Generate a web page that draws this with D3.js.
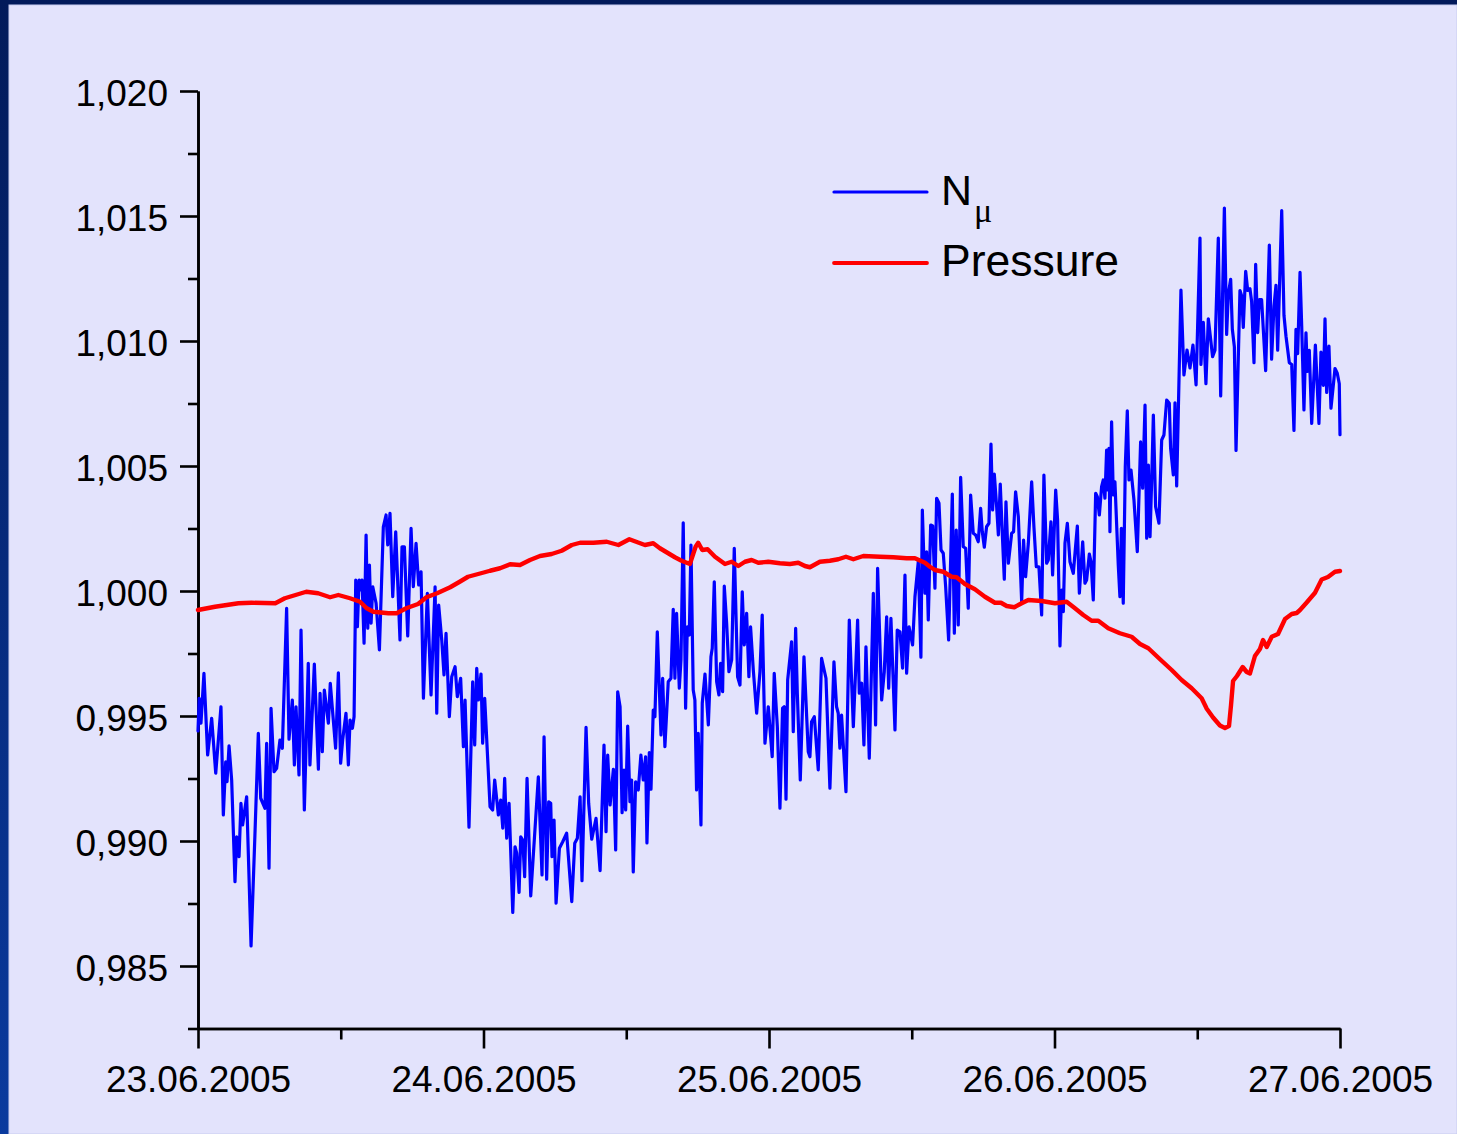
<!DOCTYPE html>
<html>
<head>
<meta charset="utf-8">
<script src="https://cdn.jsdelivr.net/npm/d3@7"></script>
<style>
  html, body { margin: 0; padding: 0; background: #0a2a78; }
  svg { display: block; }
  text { font-family: "Liberation Sans", Arial, Helvetica, sans-serif; }
</style>
</head>
<body>
<svg id="chart" width="1457" height="1134"></svg>
<script>
// Muon count rate N_mu (normalised) — hours after 23.06.2005 00:00
const nmuHours = [
  0.00, 0.10, 0.25, 0.50, 0.81, 1.15, 1.49, 1.93, 2.13, 2.33, 2.44, 2.61, 2.83, 3.11, 3.25, 3.45, 3.61, 3.75, 4.09, 4.46,
  4.79, 5.07, 5.27, 5.63, 5.77, 5.97, 6.14, 6.39, 6.61, 6.89, 7.09, 7.45, 7.65, 7.93, 8.10, 8.24, 8.49, 8.66, 8.94, 9.27,
  9.41, 9.78, 10.12, 10.26, 10.45, 10.62, 10.96, 11.12, 11.57, 11.80, 11.99, 12.16, 12.44, 12.64, 12.78, 12.98, 13.12, 13.26, 13.40, 13.54,
  13.68, 13.79, 13.96, 14.13, 14.27, 14.41, 14.55, 14.69, 14.97, 15.25, 15.58, 15.81, 15.95, 16.14, 16.37, 16.62, 16.98, 17.15, 17.35, 17.63,
  17.91, 18.10, 18.33, 18.55, 18.75, 18.95, 19.28, 19.59, 19.93, 20.07, 20.23, 20.49, 20.68, 20.85, 21.13, 21.33, 21.61, 21.80, 22.08, 22.31,
  22.45, 22.78, 23.09, 23.26, 23.43, 23.57, 23.79, 23.93, 24.10, 24.55, 24.77, 24.94, 25.25, 25.45, 25.62, 25.78, 25.95, 26.15, 26.46, 26.65,
  26.79, 26.99, 27.13, 27.30, 27.46, 27.66, 27.97, 28.61, 28.92, 29.09, 29.31, 29.48, 29.65, 29.76, 29.93, 30.10, 30.38, 30.66, 30.99, 31.42,
  31.67, 31.89, 32.12, 32.28, 32.62, 32.84, 33.10, 33.46, 33.80, 34.13, 34.30, 34.44, 34.64, 34.92, 35.11, 35.28, 35.48, 35.65, 35.81, 35.95,
  36.12, 36.31, 36.45, 36.59, 36.79, 37.01, 37.23, 37.43, 37.63, 37.74, 37.94, 38.08, 38.27, 38.41, 38.61, 38.92, 39.06, 39.25, 39.53, 39.76,
  39.95, 40.09, 40.23, 40.46, 40.60, 40.79, 40.99, 41.13, 41.30, 41.44, 41.63, 41.77, 41.91, 42.05, 42.28, 42.39, 42.62, 42.90, 43.12, 43.23,
  43.40, 43.60, 43.79, 43.93, 44.10, 44.24, 44.44, 44.63, 44.86, 45.08, 45.36, 45.56, 45.75, 45.92, 46.12, 46.31, 46.45, 46.68, 46.96, 47.24,
  47.43, 47.66, 47.94, 48.27, 48.44, 48.70, 48.92, 49.14, 49.28, 49.43, 49.57, 49.90, 50.04, 50.24, 50.38, 50.63, 50.94, 51.30, 51.44, 51.58,
  51.81, 52.14, 52.42, 52.79, 53.12, 53.46, 53.68, 53.82, 53.96, 54.10, 54.47, 54.75, 55.09, 55.45, 55.59, 55.79, 55.98, 56.15, 56.43, 56.77,
  56.96, 57.13, 57.47, 57.69, 57.89, 58.06, 58.25, 58.59, 58.78, 59.01, 59.23, 59.43, 59.57, 59.77, 60.07, 60.27, 60.55, 60.77, 60.89, 61.11,
  61.25, 61.39, 61.59, 61.76, 61.95, 62.09, 62.29, 62.46, 62.65, 62.85, 63.10, 63.41, 63.58, 63.74, 63.91, 64.11, 64.33, 64.53, 64.75, 64.95,
  65.17, 65.37, 65.59, 65.79, 65.93, 66.10, 66.29, 66.49, 66.66, 66.80, 66.94, 67.14, 67.28, 67.44, 67.61, 67.78, 67.92, 68.12, 68.40, 68.56,
  68.73, 68.96, 69.24, 69.40, 69.57, 69.80, 70.08, 70.27, 70.47, 70.69, 70.92, 71.11, 71.34, 71.48, 71.70, 71.84, 72.10, 72.26, 72.46, 72.60,
  72.74, 72.88, 73.08, 73.30, 73.58, 73.92, 74.09, 74.37, 74.56, 74.70, 74.93, 75.07, 75.26, 75.46, 75.60, 75.77, 75.96, 76.10, 76.24, 76.38,
  76.47, 76.58, 76.66, 76.80, 76.94, 77.08, 77.36, 77.50, 77.62, 77.78, 77.95, 78.12, 78.26, 78.43, 78.68, 78.96, 79.24, 79.41, 79.61, 79.75,
  79.89, 80.03, 80.17, 80.31, 80.50, 80.78, 81.01, 81.20, 81.43, 81.65, 81.76, 81.99, 82.13, 82.27, 82.63, 82.88, 83.14, 83.39, 83.64, 83.90,
  84.23, 84.31, 84.51, 84.73, 84.93, 85.13, 85.29, 85.49, 85.77, 85.97, 86.14, 86.28, 86.47, 86.61, 86.81, 86.95, 87.12, 87.26, 87.59, 87.73,
  87.87, 88.07, 88.24, 88.43, 88.57, 88.77, 88.91, 89.08, 89.22, 89.41, 89.75, 90.06, 90.25, 90.45, 90.62, 90.76, 91.10, 91.29, 91.46, 91.74,
  91.94, 92.13, 92.30, 92.44, 92.64, 92.78, 92.97, 93.14, 93.25, 93.42, 93.62, 93.93, 94.23, 94.40, 94.60, 94.74, 94.88, 95.07, 95.24, 95.58,
  95.77, 95.94, 96.00
];
const nmuValues = [
  0.99440, 0.99571, 0.99471, 0.99671, 0.99344, 0.99491, 0.99271, 0.99537, 0.99104, 0.99317, 0.99237, 0.99381, 0.99244, 0.98837, 0.99017, 0.98937, 0.99151, 0.99064, 0.99177, 0.98580,
  0.99031, 0.99431, 0.99171, 0.99131, 0.99391, 0.98891, 0.99531, 0.99277, 0.99291, 0.99404, 0.99371, 0.99931, 0.99407, 0.99564, 0.99304, 0.99537, 0.99264, 0.99844, 0.99124, 0.99711,
  0.99304, 0.99708, 0.99287, 0.99591, 0.99357, 0.99604, 0.99471, 0.99631, 0.99371, 0.99673, 0.99311, 0.99404, 0.99511, 0.99304, 0.99484, 0.99451, 0.99497, 1.00044, 0.99857, 1.00044,
  1.00004, 1.00044, 0.99791, 1.00224, 0.99851, 1.00104, 0.99871, 1.00017, 0.99951, 0.99764, 1.00257, 1.00304, 1.00184, 1.00311, 0.99977, 1.00237, 0.99804, 1.00177, 1.00177, 0.99820,
  1.00251, 1.00017, 1.00191, 1.00024, 1.00077, 0.99571, 0.99991, 0.99584, 1.00017, 0.99511, 0.99944, 0.99804, 0.99664, 0.99831, 0.99497, 0.99657, 0.99697, 0.99577, 0.99651, 0.99377,
  0.99564, 0.99055, 0.99637, 0.99384, 0.99691, 0.99564, 0.99668, 0.99391, 0.99571, 0.99137, 0.99124, 0.99244, 0.99104, 0.99164, 0.99051, 0.99251, 0.99011, 0.99151, 0.98714, 0.98977,
  0.98951, 0.98794, 0.99017, 0.99004, 0.98857, 0.99251, 0.98780, 0.99257, 0.98864, 0.99417, 0.98847, 0.99157, 0.99151, 0.98937, 0.99084, 0.98751, 0.98971, 0.98997, 0.99031, 0.98757,
  0.98991, 0.99011, 0.99177, 0.98841, 0.99455, 0.99151, 0.99007, 0.99091, 0.98881, 0.99384, 0.99037, 0.99344, 0.99144, 0.99287, 0.98964, 0.99597, 0.99537, 0.99113, 0.99284, 0.99124,
  0.99460, 0.99157, 0.99244, 0.98876, 0.99237, 0.99204, 0.99344, 0.99244, 0.99337, 0.98992, 0.99354, 0.99207, 0.99524, 0.99497, 0.99837, 0.99424, 0.99651, 0.99377, 0.99637, 0.99651,
  0.99927, 0.99651, 0.99911, 0.99611, 0.99724, 1.00273, 0.99531, 0.99857, 0.99824, 1.00184, 0.99604, 0.99564, 0.99204, 0.99431, 0.99064, 0.99551, 0.99668, 0.99464, 0.99737, 0.99771,
  1.00037, 0.99637, 0.99584, 0.99711, 0.99597, 1.00020, 0.99871, 0.99677, 0.99724, 1.00171, 0.99657, 0.99624, 0.99997, 0.99784, 0.99911, 0.99657, 0.99857, 0.99684, 0.99511, 0.99677,
  0.99904, 0.99391, 0.99537, 0.99337, 0.99671, 0.99457, 0.99131, 0.99531, 0.99537, 0.99167, 0.99644, 0.99797, 0.99437, 0.99851, 0.99591, 0.99244, 0.99737, 0.99357, 0.99337, 0.99477,
  0.99497, 0.99284, 0.99731, 0.99651, 0.99211, 0.99717, 0.99537, 0.99511, 0.99371, 0.99504, 0.99197, 0.99884, 0.99457, 0.99884, 0.99591, 0.99631, 0.99384, 0.99777, 0.99331, 0.99991,
  0.99464, 1.00091, 0.99564, 0.99677, 0.99897, 0.99611, 0.99891, 0.99444, 0.99844, 0.99837, 0.99691, 1.00064, 0.99671, 0.99857, 0.99784, 0.99977, 1.00117, 0.99735, 1.00324, 0.99991,
  1.00157, 0.99884, 1.00264, 1.00260, 1.00011, 1.00371, 1.00351, 1.00164, 1.00151, 1.00017, 0.99804, 1.00388, 0.99831, 1.00244, 0.99864, 1.00455, 1.00177, 1.00171, 0.99931, 1.00384,
  1.00231, 1.00224, 1.00197, 1.00331, 1.00237, 1.00175, 1.00257, 1.00271, 1.00588, 1.00324, 1.00468, 1.00335, 1.00224, 1.00428, 1.00231, 1.00047, 1.00357, 1.00111, 1.00231, 1.00237,
  1.00397, 1.00297, 0.99957, 1.00204, 1.00057, 1.00191, 1.00437, 1.00257, 1.00097, 1.00097, 0.99904, 1.00464, 1.00111, 1.00124, 1.00277, 1.00064, 1.00404, 1.00284, 0.99780, 1.00004,
  0.99917, 1.00191, 1.00271, 1.00117, 1.00071, 1.00260, 0.99991, 1.00197, 1.00031, 1.00044, 1.00148, 1.00117, 0.99964, 1.00391, 1.00377, 1.00304, 1.00417, 1.00444, 1.00371, 1.00564,
  1.00404, 1.00571, 1.00237, 1.00677, 1.00384, 1.00437, 1.00104, 0.99977, 1.00251, 0.99951, 1.00497, 1.00721, 1.00444, 1.00484, 1.00364, 1.00157, 1.00597, 1.00411, 1.00744, 1.00211,
  1.00504, 1.00217, 1.00444, 1.00704, 1.00337, 1.00271, 1.00604, 1.00624, 1.00764, 1.00751, 1.00571, 1.00464, 1.00753, 1.00420, 1.01204, 1.00864, 1.00964, 1.00892, 1.00984, 1.00824,
  1.01412, 1.00906, 1.01075, 1.00829, 1.01089, 1.01005, 1.00937, 1.00963, 1.01412, 1.00780, 1.01209, 1.01532, 1.01026, 1.01188, 1.01247, 1.01047, 1.00977, 1.00562, 1.01202, 1.01181,
  1.01054, 1.01279, 1.01202, 1.01209, 1.01159, 1.00913, 1.01307, 1.01033, 1.01166, 1.01166, 1.00881, 1.01384, 1.00927, 1.01138, 1.01223, 1.00963, 1.01522, 1.01103, 1.01019, 1.00913,
  1.00906, 1.00642, 1.01047, 1.00949, 1.01275, 1.01061, 1.00724, 1.01033, 1.00878, 1.00963, 1.00670, 1.00984, 1.00670, 1.00956, 1.00822, 1.01089, 1.00794, 1.00980, 1.00731, 1.00890,
  1.00871, 1.00829, 1.00625
];

// Atmospheric pressure (normalised) — hours after 23.06.2005 00:00
const pressureHours = [
  0.0, 1.43, 3.4, 4.5, 6.5, 7.3, 8.2, 9.1, 10.1, 11.1, 11.8, 12.78, 13.62, 14.18, 14.74, 16.0, 16.7, 17.5, 18.5, 19.2,
  20.1, 21.2, 22.0, 22.7, 23.71, 24.55, 25.39, 26.23, 27.07, 27.91, 28.75, 29.73, 30.57, 31.42, 32.12, 33.24, 34.36, 35.34, 36.26, 37.57,
  38.27, 38.83, 39.53, 40.09, 40.65, 41.35, 41.83, 42.05, 42.39, 42.84, 43.46, 44.30, 44.86, 45.42, 45.98, 46.54, 47.10, 47.94, 48.92, 49.76,
  50.46, 51.02, 51.44, 52.28, 53.12, 53.82, 54.47, 55.09, 55.93, 57.33, 58.45, 59.57, 60.27, 61.11, 61.53, 61.95, 62.65, 63.35, 63.77, 64.47,
  65.31, 66.15, 66.99, 67.50, 67.98, 68.62, 69.24, 69.80, 70.92, 72.04, 73.02, 73.72, 74.42, 75.12, 75.68, 76.52, 77.50, 78.48, 79.19, 79.89,
  80.87, 81.85, 82.69, 83.53, 84.37, 84.80, 85.33, 85.91, 86.33, 86.67, 86.84, 87.01, 87.34, 87.82, 88.16, 88.43, 88.85, 89.27, 89.53, 89.84,
  90.26, 90.79, 91.38, 91.94, 92.36, 92.64, 93.20, 93.90, 94.46, 94.99, 95.58, 96.00
];
const pressureValues = [
  0.99924, 0.99937, 0.99951, 0.99953, 0.99951, 0.99971, 0.99984, 0.99997, 0.99991, 0.99975, 0.99984, 0.99971, 0.99957, 0.99931, 0.99917, 0.99911, 0.99911, 0.99931, 0.99948, 0.99975,
  0.99991, 1.00015, 1.00037, 1.00057, 1.00070, 1.00081, 1.00091, 1.00107, 1.00104, 1.00124, 1.00140, 1.00148, 1.00161, 1.00184, 1.00193, 1.00193, 1.00197, 1.00184, 1.00207, 1.00184,
  1.00191, 1.00171, 1.00151, 1.00135, 1.00121, 1.00108, 1.00177, 1.00193, 1.00164, 1.00167, 1.00137, 1.00108, 1.00117, 1.00100, 1.00117, 1.00124, 1.00113, 1.00117, 1.00111, 1.00108,
  1.00113, 1.00100, 1.00095, 1.00117, 1.00121, 1.00127, 1.00137, 1.00127, 1.00140, 1.00137, 1.00135, 1.00131, 1.00131, 1.00113, 1.00097, 1.00084, 1.00077, 1.00057, 1.00055, 1.00028,
  1.00007, 0.99977, 0.99953, 0.99953, 0.99940, 0.99935, 0.99951, 0.99964, 0.99960, 0.99951, 0.99957, 0.99931, 0.99904, 0.99881, 0.99881, 0.99851, 0.99831, 0.99817, 0.99788, 0.99771,
  0.99727, 0.99684, 0.99644, 0.99611, 0.99571, 0.99529, 0.99494, 0.99462, 0.99452, 0.99460, 0.99544, 0.99640, 0.99660, 0.99696, 0.99676, 0.99670, 0.99740, 0.99768, 0.99804, 0.99776,
  0.99817, 0.99828, 0.99888, 0.99908, 0.99912, 0.99924, 0.99954, 0.99993, 1.00046, 1.00056, 1.00077, 1.00080
];

// Axis ticks
const yMajorTicks = [0.985, 0.990, 0.995, 1.000, 1.005, 1.010, 1.015, 1.020];
const yMinorTicks = [0.9825, 0.9875, 0.9925, 0.9975, 1.0025, 1.0075, 1.0125, 1.0175];
const xMajorHours = [0, 24, 48, 72, 96];
const xMajorLabels = ["23.06.2005", "24.06.2005", "25.06.2005", "26.06.2005", "27.06.2005"];
const xMinorHours = [12, 36, 60, 84];

const seriesNames = ["N", "Pressure"];
const seriesColors = ["#0000ff", "#ff0000"];

const W = 1457, H = 1134;
const svg = d3.select("#chart");

// Frame: dark blue border with a lavender panel
const defs = svg.append("defs");
const grad = defs.append("linearGradient").attr("id", "frameGrad")
  .attr("x1", 0).attr("y1", 0).attr("x2", 0).attr("y2", 1);
grad.append("stop").attr("offset", "0%").attr("stop-color", "#021a5a");
grad.append("stop").attr("offset", "100%").attr("stop-color", "#0a3a9e");
svg.append("rect").attr("width", W).attr("height", H).attr("fill", "url(#frameGrad)");
svg.append("rect").attr("x", 9).attr("y", 5).attr("width", W - 9).attr("height", H - 5)
  .attr("fill", "#e3e3fc").attr("stroke", "#c9cdf0").attr("stroke-width", 1);

const x = d3.scaleLinear().domain([0, 96]).range([198, 1340]);
const y = d3.scaleLinear().domain([0.9825, 1.020]).range([1028.5, 91]);

const commaLocale = d3.formatLocale({ decimal: ",", thousands: ".", grouping: [3], currency: ["", ""] });
const fmt = commaLocale.format(".3f");

const axisColor = "#000";
const axisW = 2.6;

// Y axis: minor then major ticks
const yMinor = svg.append("g").attr("transform", `translate(${x(0)},0)`)
  .call(d3.axisLeft(y).tickValues(yMinorTicks).tickSize(10).tickSizeOuter(0).tickFormat(""));
const yMajor = svg.append("g").attr("transform", `translate(${x(0)},0)`)
  .call(d3.axisLeft(y).tickValues(yMajorTicks).tickSize(18).tickSizeOuter(0).tickPadding(12).tickFormat(fmt));

// X axis: minor then major ticks
const xMinor = svg.append("g").attr("transform", `translate(0,${y(0.9825)})`)
  .call(d3.axisBottom(x).tickValues(xMinorHours).tickSize(11).tickSizeOuter(0).tickFormat(""));
const xMajor = svg.append("g").attr("transform", `translate(0,${y(0.9825)})`)
  .call(d3.axisBottom(x).tickValues(xMajorHours).tickSize(20).tickSizeOuter(0).tickPadding(17)
    .tickFormat((d, i) => xMajorLabels[i]));

[yMinor, yMajor, xMinor, xMajor].forEach(g => {
  g.selectAll(".domain").attr("stroke", axisColor).attr("stroke-width", axisW);
  g.selectAll(".tick line").attr("stroke", axisColor).attr("stroke-width", axisW);
  g.selectAll("text").attr("fill", "#000").style("font-size", "37px")
    .style("font-family", "'Liberation Sans', Arial, sans-serif");
});
yMajor.selectAll("text").attr("dy", "0.39em");

// Data lines
const line = d3.line().x(d => x(d[0])).y(d => y(d[1]));
const nmuData = nmuHours.map((h, i) => [h, nmuValues[i]]);
const presData = pressureHours.map((h, i) => [h, pressureValues[i]]);

svg.append("path").datum(nmuData).attr("d", line)
  .attr("fill", "none").attr("stroke", seriesColors[0]).attr("stroke-width", 3.2)
  .attr("stroke-linejoin", "round").attr("stroke-linecap", "round");
svg.append("path").datum(presData).attr("d", line)
  .attr("fill", "none").attr("stroke", seriesColors[1]).attr("stroke-width", 4.4)
  .attr("stroke-linejoin", "round").attr("stroke-linecap", "round");

// Legend
const legend = svg.append("g");
legend.append("line").attr("x1", 834).attr("x2", 927).attr("y1", 192).attr("y2", 192)
  .attr("stroke", seriesColors[0]).attr("stroke-width", 3.2).attr("stroke-linecap", "round");
legend.append("line").attr("x1", 834).attr("x2", 927).attr("y1", 263).attr("y2", 263)
  .attr("stroke", seriesColors[1]).attr("stroke-width", 3.8).attr("stroke-linecap", "round");
const t1 = legend.append("text").attr("x", 941).attr("y", 205).style("font-size", "43px").attr("fill", "#000");
t1.append("tspan").text(seriesNames[0]);
t1.append("tspan").attr("dx", 2).attr("dy", 17).style("font-size", "34px")
  .style("font-family", "'Liberation Serif', 'Times New Roman', serif").text("μ");
legend.append("text").attr("x", 941).attr("y", 276).style("font-size", "44.5px").attr("fill", "#000")
  .text(seriesNames[1]);
</script>
</body>
</html>
